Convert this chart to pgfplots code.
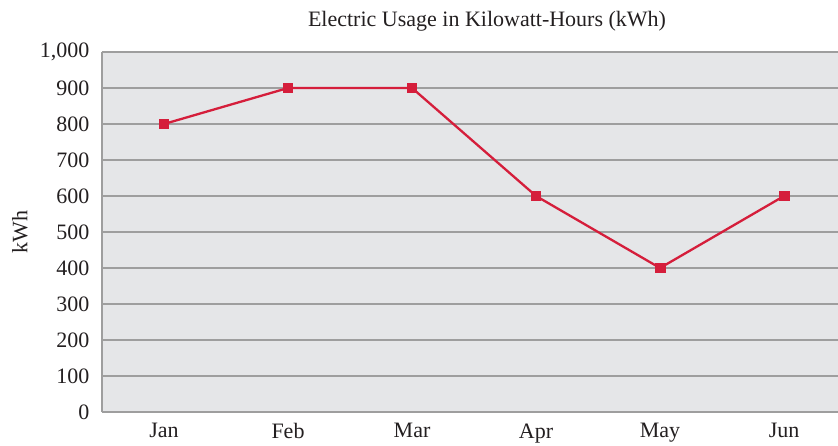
\documentclass[border=0pt]{standalone}
\usepackage{pgfplots}
\pgfplotsset{compat=1.18}
\usepackage{fontspec}
\setmainfont{Liberation Serif}
\definecolor{bg}{HTML}{E5E6E8}
\definecolor{gridc}{HTML}{9E9E9E}
\definecolor{redl}{HTML}{D51E3B}
\definecolor{txt}{HTML}{231F20}
\begin{document}
\begin{tikzpicture}[x=1pt,y=1pt]
\path[use as bounding box] (0,0) rectangle (838,445);
\begin{axis}[
  at={(102pt,33pt)}, anchor=south west,
  scale only axis, width=736pt, height=360pt,
  xmin=-0.5, xmax=5.435, ymin=0, ymax=1000,
  xtick={0,1,2,3,4,5},
  xticklabels={Jan,Feb,Mar,Apr,May,Jun},
  ytick={0,100,...,1000},
  axis background/.style={fill=bg},
  axis x line*=bottom, axis y line*=left,
  axis line style={gridc, line width=1.3pt, -},
  ymajorgrids, grid style={gridc, line width=1.3pt},
  major tick length=0pt,
  /pgf/number format/assume math mode=true,
  /pgf/number format/1000 sep={,},
  ticklabel style={font=\fontsize{22}{26}\selectfont, text=txt},
  yticklabel style={xshift=-9pt},
  xticklabel style={yshift=-8pt},
  ylabel={kWh}, ylabel style={font=\fontsize{22}{26}\selectfont, text=txt, at={(-82pt,180pt)}, anchor=center, rotate=0},
  clip=false,
]
\addplot[redl, line width=2.3pt, mark=square*, mark size=4.3pt, mark options={solid, fill=redl, draw=redl}]
  coordinates {(0,800) (1,900) (2,900) (3,600) (4,400) (5,600)};
\end{axis}
\node[anchor=base, font=\fontsize{22}{26}\selectfont, text=txt] at (487,418) {Electric Usage in Kilowatt-Hours (kWh)};
\end{tikzpicture}
\end{document}
